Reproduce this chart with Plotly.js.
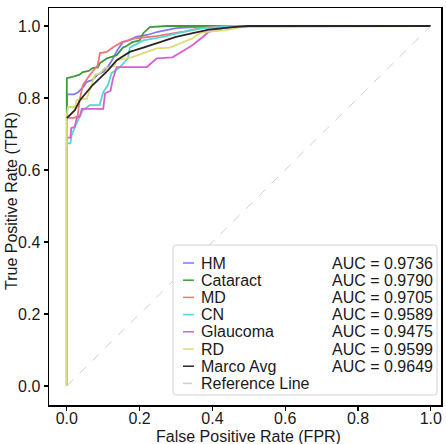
<!DOCTYPE html>
<html>
<head>
<meta charset="utf-8">
<script src="https://cdn.plot.ly/plotly-3.0.1.min.js"></script>
<style>html,body{margin:0;padding:0;background:#fff;}#chart{width:446px;height:444px;}</style>
</head>
<body>
<div id="chart"></div>
<script>
// ---- data ----
var classNames = ["HM", "Cataract", "MD", "CN", "Glaucoma", "RD", "Marco Avg"];
var aucValues = ["0.9736", "0.9790", "0.9705", "0.9589", "0.9475", "0.9599", "0.9649"];

var hmFpr = [0, 0, 0.02, 0.03, 0.045, 0.055, 0.07, 0.085, 0.1, 0.115, 0.127, 0.14, 0.154, 0.17, 0.19, 0.22, 0.25, 0.3, 0.4, 1];
var hmTpr = [0, 0.81, 0.81, 0.815, 0.83, 0.845, 0.85, 0.865, 0.873, 0.89, 0.91, 0.935, 0.955, 0.96, 0.97, 0.975, 0.984, 0.994, 1, 1];

var catFpr = [0, 0, 0.02, 0.035, 0.044, 0.06, 0.071, 0.085, 0.091, 0.11, 0.125, 0.137, 0.154, 0.165, 0.18, 0.2, 0.21, 0.228, 0.275, 1];
var catTpr = [0, 0.855, 0.86, 0.865, 0.872, 0.875, 0.883, 0.885, 0.897, 0.91, 0.915, 0.919, 0.94, 0.945, 0.955, 0.96, 0.98, 0.997, 1, 1];

var mdFpr = [0, 0, 0.02, 0.03, 0.035, 0.044, 0.063, 0.085, 0.091, 0.11, 0.126, 0.151, 0.19, 0.247, 0.32, 0.365, 0.44, 1];
var mdTpr = [0, 0.745, 0.745, 0.75, 0.794, 0.836, 0.864, 0.891, 0.925, 0.928, 0.94, 0.955, 0.966, 0.972, 0.984, 0.994, 1, 1];

var cnFpr = [0, 0, 0.01, 0.013, 0.022, 0.036, 0.044, 0.063, 0.09, 0.1, 0.113, 0.123, 0.146, 0.168, 0.173, 0.21, 0.264, 0.32, 0.374, 0.46, 1];
var cnTpr = [0, 0.674, 0.674, 0.696, 0.719, 0.752, 0.766, 0.78, 0.78, 0.816, 0.836, 0.869, 0.886, 0.91, 0.94, 0.96, 0.97, 0.984, 0.994, 1, 1];

var glFpr = [0, 0, 0.01, 0.012, 0.022, 0.027, 0.036, 0.041, 0.1, 0.105, 0.12, 0.127, 0.137, 0.22, 0.247, 0.29, 0.31, 0.346, 0.374, 0.39, 0.43, 0.5, 1];
var glTpr = [0, 0.69, 0.69, 0.716, 0.72, 0.744, 0.75, 0.77, 0.77, 0.813, 0.82, 0.855, 0.886, 0.886, 0.91, 0.913, 0.925, 0.947, 0.97, 0.984, 0.994, 1, 1];

var rdFpr = [0, 0, 0.003, 0.022, 0.027, 0.055, 0.063, 0.077, 0.09, 0.104, 0.13, 0.137, 0.178, 0.22, 0.247, 0.283, 0.31, 0.346, 0.365, 0.384, 0.43, 0.48, 1];
var rdTpr = [0, 0.752, 0.775, 0.775, 0.794, 0.798, 0.822, 0.864, 0.868, 0.883, 0.888, 0.905, 0.913, 0.928, 0.938, 0.94, 0.952, 0.966, 0.98, 0.984, 0.988, 0.997, 1];

var avgFpr = [0, 0.022, 0.036, 0.055, 0.071, 0.091, 0.113, 0.137, 0.173, 0.21, 0.255, 0.3, 0.346, 0.39, 0.456, 0.5, 1];
var avgTpr = [0.744, 0.766, 0.794, 0.816, 0.836, 0.855, 0.877, 0.905, 0.928, 0.94, 0.955, 0.97, 0.98, 0.99, 0.997, 1, 1];

var refX = [0, 1];
var refY = [0, 1];

var xTicks = [0, 0.2, 0.4, 0.6, 0.8, 1.0];
var yTicks = [0, 0.2, 0.4, 0.6, 0.8, 1.0];
var xTitle = "False Positive Rate (FPR)";
var yTitle = "True Positive Rate (TPR)";

// ---- styling ----
var colors = ["#7b7bf4", "#3f9a3f", "#f27474", "#55d6d6", "#d65fd6", "#dcdc74", "#262626"];
var seriesX = [hmFpr, catFpr, mdFpr, cnFpr, glFpr, rdFpr, avgFpr];
var seriesY = [hmTpr, catTpr, mdTpr, cnTpr, glTpr, rdTpr, avgTpr];

var FONT = "Liberation Sans, Arial, sans-serif";
var TXT = "#1a1a1a";
var W = 446, H = 444;
var mL = 49, mR = 5, mT = 8, mB = 39;
var pw = W - mL - mR, ph = H - mT - mB;
function px2x(p) { return (p - mL) / pw; }
function py2y(p) { return (H - mB - p) / ph; }

var traces = [];
for (var i = 0; i < classNames.length; i++) {
  traces.push({
    type: "scatter", mode: "lines", name: classNames[i],
    x: seriesX[i], y: seriesY[i],
    line: {color: colors[i], width: 1.8},
    showlegend: false, hoverinfo: "skip"
  });
}
traces.push({
  type: "scatter", mode: "lines", name: "Reference Line",
  x: refX, y: refY,
  line: {color: "#cfcfcf", width: 1, dash: "dash"},
  showlegend: false, hoverinfo: "skip"
});

// custom legend
var shapes = [];
var annotations = [];
var bx0 = px2x(173), bx1 = px2x(437), by0 = py2y(395), by1 = py2y(245);
var rx = 3 / pw, ry = 3 / ph;
shapes.push({
  type: "path", xref: "paper", yref: "paper",
  path: "M" + (bx0 + rx) + "," + by1 + " L" + (bx1 - rx) + "," + by1 +
        " Q" + bx1 + "," + by1 + " " + bx1 + "," + (by1 - ry) +
        " L" + bx1 + "," + (by0 + ry) +
        " Q" + bx1 + "," + by0 + " " + (bx1 - rx) + "," + by0 +
        " L" + (bx0 + rx) + "," + by0 +
        " Q" + bx0 + "," + by0 + " " + bx0 + "," + (by0 + ry) +
        " L" + bx0 + "," + (by1 - ry) +
        " Q" + bx0 + "," + by1 + " " + (bx0 + rx) + "," + by1 + " Z",
  fillcolor: "rgba(255,255,255,0.85)", line: {color: "#d4d4d4", width: 1}, layer: "above"
});
var legNames = classNames.concat(["Reference Line"]);
var legColors = colors.concat(["#cfcfcf"]);
var rowY0 = 263, rowStep = 17.2;
for (var j = 0; j < legNames.length; j++) {
  var ry0 = rowY0 + j * rowStep;
  shapes.push({
    type: "line", xref: "paper", yref: "paper",
    x0: px2x(183), x1: px2x(194), y0: py2y(ry0), y1: py2y(ry0),
    line: {color: legColors[j], width: 1.5, dash: j === legNames.length - 1 ? "dash" : "solid"},
    layer: "above"
  });
  annotations.push({
    xref: "paper", yref: "paper", x: px2x(199), y: py2y(ry0),
    xanchor: "left", yanchor: "middle", showarrow: false,
    text: legNames[j], font: {family: FONT, size: 16, color: TXT}
  });
  if (j < aucValues.length) {
    annotations.push({
      xref: "paper", yref: "paper", x: px2x(330), y: py2y(ry0),
      xanchor: "left", yanchor: "middle", showarrow: false,
      text: "AUC = " + aucValues[j], font: {family: FONT, size: 16, color: TXT}
    });
  }
}
// axis titles
annotations.push({
  xref: "paper", yref: "paper", x: px2x(248), y: py2y(436),
  xanchor: "center", yanchor: "middle", showarrow: false,
  text: xTitle, font: {family: FONT, size: 16, color: TXT}
});
annotations.push({
  xref: "paper", yref: "paper", x: px2x(11), y: py2y(201),
  xanchor: "center", yanchor: "middle", showarrow: false, textangle: -90,
  text: yTitle, font: {family: FONT, size: 16, color: TXT}
});

var axisCommon = {
  showgrid: false, zeroline: false, showline: true, mirror: true,
  linecolor: "#000", linewidth: 1.5, ticks: "outside", ticklen: 4, tickwidth: 1.2,
  tickcolor: "#000", tickformat: ".1f",
  tickfont: {family: FONT, size: 16, color: TXT}
};

var layout = {
  width: W, height: H,
  margin: {l: mL, r: mR, t: mT, b: mB, pad: 0},
  paper_bgcolor: "#fff", plot_bgcolor: "#fff",
  font: {family: FONT, color: TXT},
  xaxis: Object.assign({}, axisCommon, {
    range: [-0.049, 1.028], tickvals: xTicks, ticklabelstandoff: -6
  }),
  yaxis: Object.assign({}, axisCommon, {
    range: [-0.053, 1.05], tickvals: yTicks
  }),
  shapes: shapes,
  annotations: annotations,
  showlegend: false
};

Plotly.newPlot("chart", traces, layout, {displayModeBar: false, staticPlot: true});
</script>
</body>
</html>
